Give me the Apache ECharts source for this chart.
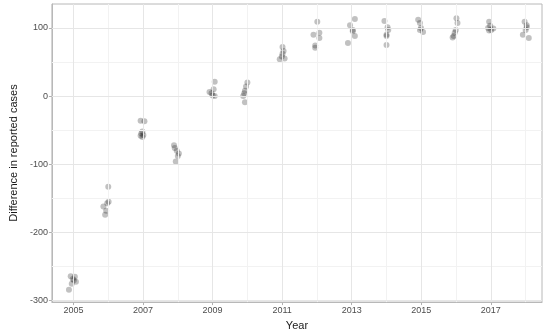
<!DOCTYPE html>
<html>
<head>
<meta charset="utf-8">
<script src="https://cdn.jsdelivr.net/npm/echarts@6/dist/echarts.min.js"></script>
<style>
html,body{margin:0;padding:0;background:#fff;}
#chart{width:543px;height:336px;}
</style>
</head>
<body>
<div id="chart"></div>
<script>
// Jittered year positions of each point
const xJittered = [
  2004.92, 2005.04, 2004.98, 2005.01, 2005.07, 2004.95, 2004.87,
  2006.00, 2006.01, 2005.97, 2005.86, 2005.94, 2005.91,
  2006.93, 2007.04, 2006.98, 2006.95, 2007.01, 2006.93, 2006.98,
  2007.89, 2007.91, 2007.97, 2008.03, 2008.00, 2007.94,
  2009.06, 2009.03, 2008.91, 2008.97, 2009.00, 2009.06,
  2010.00, 2009.96, 2009.93, 2009.91, 2009.88, 2009.93,
  2011.01, 2011.04, 2011.01, 2010.99, 2011.07, 2010.93,
  2012.01, 2012.07, 2011.90, 2012.07, 2011.95, 2011.95,
  2013.09, 2012.95, 2013.03, 2013.03, 2013.09, 2012.89,
  2013.94, 2014.03, 2014.05, 2014.00, 2014.00, 2014.00,
  2014.91, 2014.96, 2014.99, 2014.96, 2015.05,
  2016.01, 2016.04, 2015.99, 2015.96, 2015.93, 2015.90,
  2016.95, 2016.98, 2016.92, 2017.07, 2017.01, 2016.95,
  2017.97, 2018.03, 2018.03, 2018.00, 2017.92, 2018.09
];
// Difference in reported cases for each point
const diffValues = [
  -264, -265, -268, -270, -272, -275, -284,
  -133, -155, -157, -162, -168, -174,
  -36, -37, -52, -55, -57, -58, -60,
  -72, -76, -80, -84, -88, -96,
  21, 10, 6, 4, 1, 0,
  20, 14, 8, 4, 0, -9,
  72, 66, 62, 58, 55, 54,
  109, 93, 90, 85, 74, 71,
  113, 104, 97, 95, 88, 78,
  110, 101, 97, 90, 88, 75,
  112, 107, 100, 97, 94,
  114, 107, 97, 93, 88, 86,
  109, 103, 100, 99, 97, 96,
  109, 104, 101, 97, 90, 85
];
const xTickLabels = [2005, 2007, 2009, 2011, 2013, 2015, 2017];
const xMinorBreaks = [2006, 2008, 2010, 2012, 2014, 2016, 2018];
const yTickLabels = [-300, -200, -100, 0, 100];
const yMinorBreaks = [-250, -150, -50, 50];

const points = xJittered.map((x, i) => [x, diffValues[i]]);

const majorColor = '#e6e6e6';
const minorColor = '#f2f2f2';
const gridLines = [];
xMinorBreaks.forEach(v => gridLines.push({xAxis: v, lineStyle: {color: minorColor, width: 1, type: 'solid'}}));
yMinorBreaks.forEach(v => gridLines.push({yAxis: v, lineStyle: {color: minorColor, width: 1, type: 'solid'}}));
xTickLabels.forEach(v => gridLines.push({xAxis: v, lineStyle: {color: majorColor, width: 1, type: 'solid'}}));
yTickLabels.forEach(v => gridLines.push({yAxis: v, lineStyle: {color: majorColor, width: 1, type: 'solid'}}));

const chart = echarts.init(document.getElementById('chart'), null, {renderer: 'canvas'});
const font = '"Liberation Sans", Arial, sans-serif';
chart.setOption({
  animation: false,
  backgroundColor: '#fff',
  grid: {
    left: 45, right: 1, top: 4, bottom: 31,
    show: true, borderColor: '#b8b8b8', borderWidth: 1, backgroundColor: 'transparent'
  },
  xAxis: {
    type: 'value',
    min: 2004.38, max: 2018.47,
    name: 'Year',
    nameLocation: 'middle',
    nameGap: 14,
    nameTextStyle: {fontFamily: font, fontSize: 11, color: '#1a1a1a'},
    splitLine: {show: false},
    axisLine: {show: true, onZero: false, lineStyle: {color: '#b8b8b8', width: 1}},
    axisTick: {show: true, customValues: xTickLabels, length: 3, lineStyle: {color: '#b0b0b0'}},
    axisLabel: {customValues: xTickLabels, fontFamily: font, fontSize: 9, color: '#4d4d4d', margin: 4,
      formatter: v => String(v)}
  },
  yAxis: {
    type: 'value',
    min: -302, max: 135,
    name: 'Difference in reported cases',
    nameLocation: 'middle',
    nameGap: 26,
    nameTextStyle: {fontFamily: font, fontSize: 11, color: '#1a1a1a'},
    splitLine: {show: false},
    axisLine: {show: true, onZero: false, lineStyle: {color: '#b8b8b8', width: 1}},
    axisTick: {show: true, customValues: yTickLabels, length: 3, lineStyle: {color: '#b0b0b0'}},
    axisLabel: {customValues: yTickLabels, fontFamily: font, fontSize: 9, color: '#4d4d4d', margin: 4,
      formatter: v => String(v)}
  },
  series: [
    {
      type: 'scatter',
      data: [],
      z: 1,
      silent: true,
      markLine: {
        silent: true,
        symbol: ['none', 'none'],
        label: {show: false},
        animation: false,
        emphasis: {disabled: true},
        lineStyle: {type: 'solid'},
        data: gridLines
      }
    },
    {
      type: 'scatter',
      z: 3,
      data: points,
      symbol: 'circle',
      symbolSize: 6,
      itemStyle: {color: 'rgba(0,0,0,0.3)'}
    }
  ]
});
</script>
</body>
</html>
